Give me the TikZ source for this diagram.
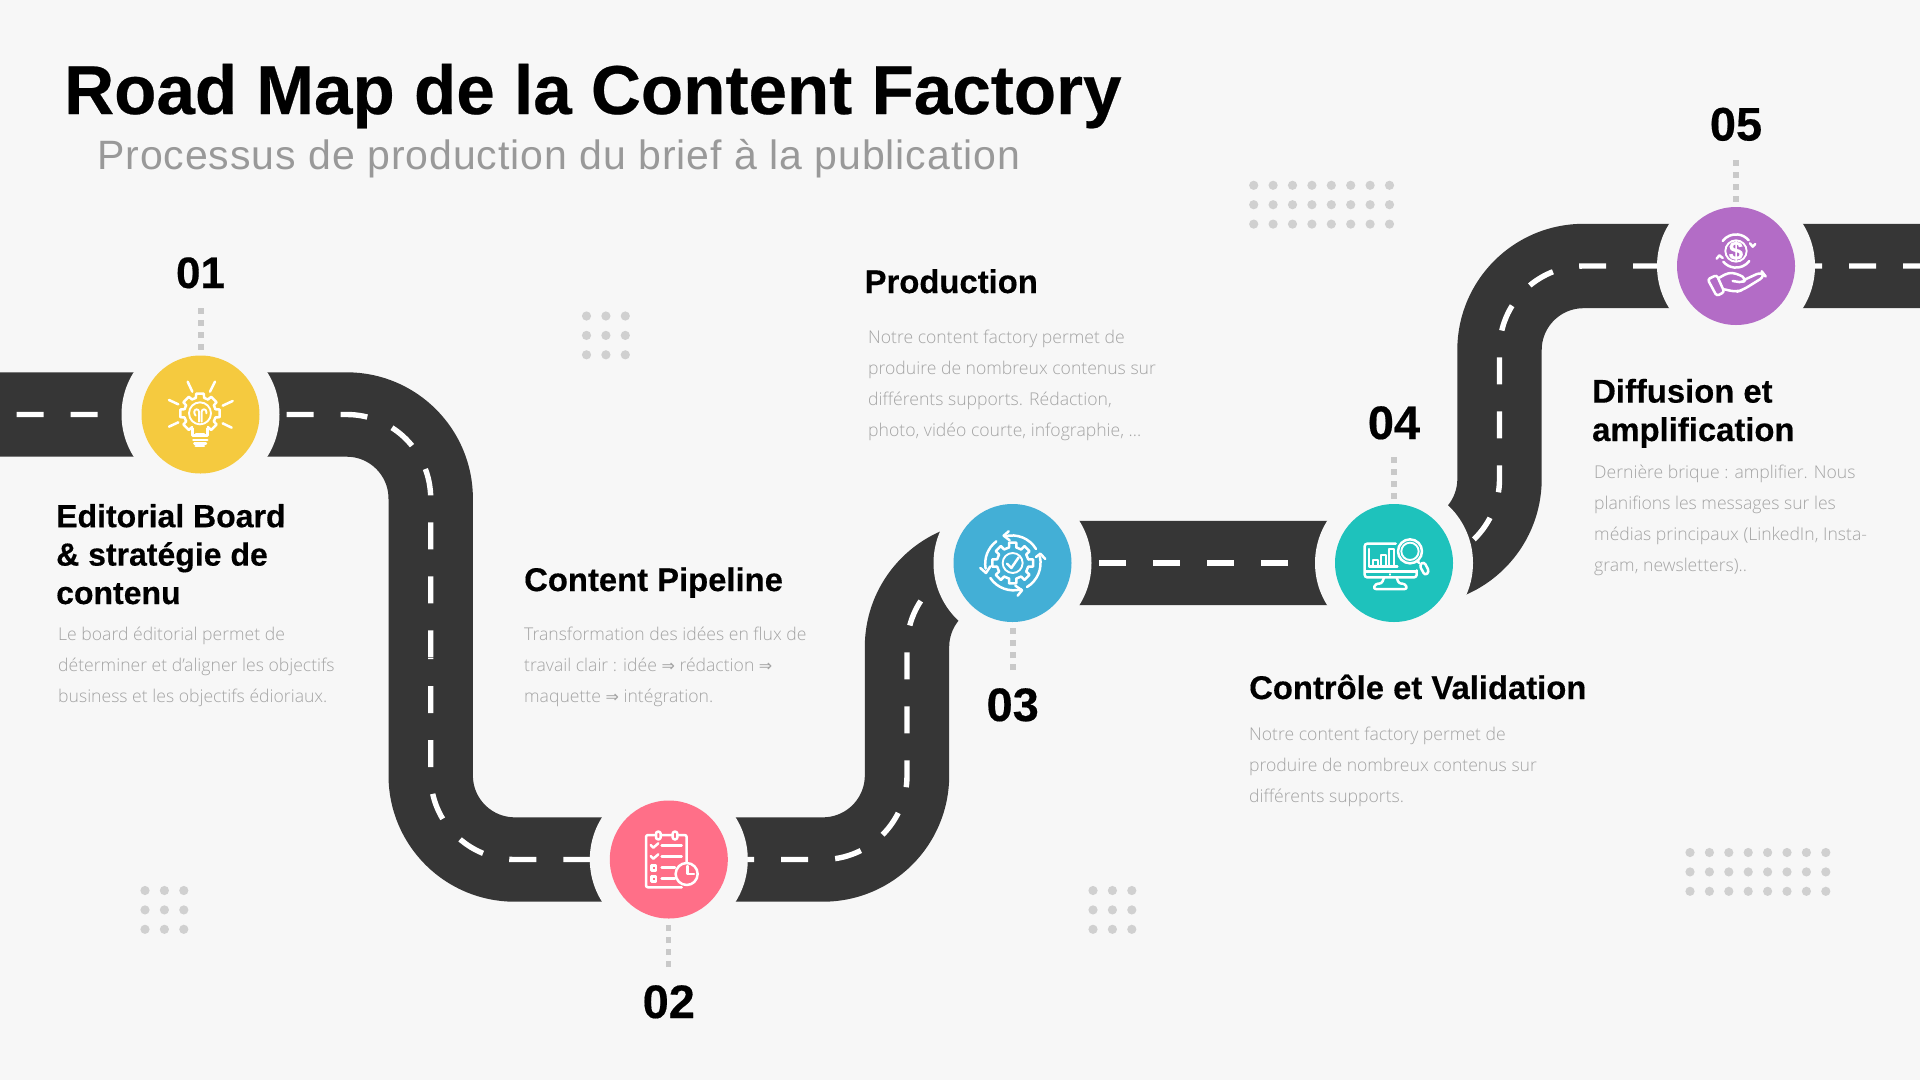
\documentclass[tikz,border=0pt]{standalone}
\usepackage{fontspec}
\usetikzlibrary{calc}
\setmainfont[BoldFeatures={FakeBold=0.35}]{Liberation Sans}
\newfontfamily\subf[LetterSpace=2.3]{Liberation Sans}
\newfontfamily\bodyf{Open Sans Light}
\newfontfamily\arrowf{DejaVu Sans}
\definecolor{bg}{HTML}{F7F7F7}
\definecolor{roadc}{HTML}{363636}
\definecolor{dotc}{HTML}{C9C9C9}
\definecolor{gridc}{HTML}{D0D0D0}
\definecolor{bodyc}{HTML}{A4A4A4}
\definecolor{subc}{HTML}{999999}
\definecolor{cyellow}{HTML}{F5CA3F}
\definecolor{cpink}{HTML}{FF6F88}
\definecolor{cblue}{HTML}{43AFD6}
\definecolor{cteal}{HTML}{1EC2BC}
\definecolor{cpurple}{HTML}{B36CC6}
\newcommand{\fa}{{\arrowf\fontsize{16}{16}\selectfont ⇒}}
\tikzset{
  road/.style={draw=roadc,line width=84.4pt,line join=round},
  lane/.style={draw=white,line width=5.4pt,dash pattern=on 27pt off 27pt},
  halo/.style={circle,fill=bg,inner sep=0pt,minimum size=158pt},
  badge/.style={circle,inner sep=0pt,minimum size=118pt},
  numtext/.style={inner sep=0pt,anchor=base,font=\bfseries\fontsize{47}{47}\selectfont},
  headtext/.style={inner sep=0pt,anchor=base west,align=left,font=\bfseries\fontsize{32.8}{38.4}\selectfont},
  bodytext/.style={inner sep=0pt,anchor=base west,align=left,text=bodyc,font=\bodyf\fontsize{17.6}{30.7}\selectfont},
  dotline/.style={draw=dotc,line width=5.6pt,dash pattern=on 6pt off 6pt},
  griddot/.style={fill=gridc},
  ic/.style={draw=white,line width=2.5pt,line cap=round,line join=round},
  icthin/.style={draw=white,line width=1.9pt,line cap=round,line join=round},
}
\newcommand{\griddots}[4]{% x0,y0,cols,rows
  \foreach \i in {1,...,#3}{\foreach \j in {1,...,#4}{
    \fill[griddot] ({#1+(\i-1)*19.4},{#2+(\j-1)*19.4}) circle[radius=4.6];}}}
\begin{document}
\begin{tikzpicture}[x=1pt,y=-1pt]
\useasboundingbox (0,0) rectangle (1920,1080);
\fill[bg] (0,0) rectangle (1920,1080);
\coordinate (wl) at (0,414.5);
\coordinate (wr) at (1920,266);
\coordinate (c1) at (200.5,414.5);
\coordinate (c2) at (668.8,859.5);
\coordinate (c3) at (1012.5,563);
\coordinate (c4) at (1394,563);
\coordinate (c5) at (1736,266);

% road
\draw[road] (wl) -- (346.7,414.5) arc[start angle=-90,end angle=0,radius=84] -- (430.7,775.5)
  arc[start angle=180,end angle=90,radius=84] -- (c2) -- (823,859.5)
  arc[start angle=90,end angle=0,radius=84] -- (907,647)
  arc[start angle=180,end angle=270,radius=84] -- (c3) -- (c4) -- (1415.5,563)
  arc[start angle=90,end angle=0,radius=84] -- (1499.5,350)
  arc[start angle=180,end angle=270,radius=84] -- (c5) -- (wr);
% lane markings
\coordinate (lanebreak) at (430.7,658);
\draw[lane,dash phase=37.5pt] (wl) -- (346.7,414.5) arc[start angle=-90,end angle=0,radius=84] -- (lanebreak);
\draw[lane,dash phase=26pt] (lanebreak) -- (430.7,775.5)
  arc[start angle=180,end angle=90,radius=84] -- (c2);
\draw[lane,dash phase=49.6pt] (c2) -- (823,859.5)
  arc[start angle=90,end angle=0,radius=84] -- (907,647)
  arc[start angle=180,end angle=270,radius=84] -- (c3);
\draw[lane,dash phase=21.5pt] (c3) -- (c4);
\draw[lane,dash phase=21.9pt] (c4) -- (1415.5,563)
  arc[start angle=90,end angle=0,radius=84] -- (1499.5,350)
  arc[start angle=180,end angle=270,radius=84] -- (c5) -- (wr);

% halos and badges
\node[halo] (h1) at (c1) {};
\node[halo] (h2) at (c2) {};
\node[halo] (h3) at (c3) {};
\node[halo] (h4) at (c4) {};
\node[halo] (h5) at (c5) {};
\node[badge,fill=cyellow] (b1) at (c1) {};
\node[badge,fill=cpink] (b2) at (c2) {};
\node[badge,fill=cblue] (b3) at (c3) {};
\node[badge,fill=cteal] (b4) at (c4) {};
\node[badge,fill=cpurple] (b5) at (c5) {};

% icon 1: lightbulb gear
\begin{scope}[shift={(150,365)},x=0.3333pt,y=-0.3333pt]
  \foreach \a in {0,45,...,315}{
    \draw[ic] ($(150,145)+(\a-15:48)$) -- ($(150,145)+(\a-11:60)$) -- ($(150,145)+(\a+11:60)$) -- ($(150,145)+(\a+15:48)$)
      arc[start angle=\a+15,end angle=\a+30,radius=48];
  }
  \fill[cyellow] (130,184) rectangle (170,205);
  \draw[ic] (127,190) -- (127,212) -- (173,212) -- (173,190);
  \draw[icthin] (150,145) circle[radius=33];
  \draw[icthin] (147,170) -- (147,140) arc[start angle=0,end angle=-180,radius=7] -- (133,145) (133,145) arc[start angle=180,end angle=120,radius=8];
  \draw[icthin] (155,170) -- (155,140) arc[start angle=180,end angle=360,radius=7] -- (169,145);
  \draw[ic] (130,225) -- (172,225) (133,235) -- (168,235) (137,243) -- (162,243);
  \draw[ic] (113,50) -- (127,80) (195,50) -- (180,80) (57,105) -- (85,118) (248,108) -- (218,122) (57,185) -- (85,172) (245,188) -- (218,175);
\end{scope}

% icon 2: checklist and clock
\begin{scope}[shift={(620,810)},x=0.3333pt,y=-0.3333pt]
  \draw[ic,rounded corners=2pt] (200,160) -- (200,75) -- (78,75) -- (78,232) -- (185,232);
  \draw[ic,fill=cpink,rounded corners=2pt] (108,65) rectangle (122,88);
  \draw[ic,fill=cpink,rounded corners=2pt] (158,65) rectangle (172,88);
  \draw[ic] (92,105) -- (100,113) -- (115,100) (92,138) -- (100,146) -- (115,133);
  \draw[ic] (125,107) -- (185,107) (125,140) -- (185,140) (125,173) -- (165,173) (125,206) -- (165,206);
  \draw[ic] (94,166) rectangle (108,182) (94,199) rectangle (108,215);
  \draw[ic,fill=cpink] (200,192) circle[radius=33];
  \draw[ic] (203,168) -- (203,192) -- (222,192);
\end{scope}

% icon 3: gear and cycle arrows
\begin{scope}[shift={(962,513)},x=0.3333pt,y=-0.3333pt]
  \foreach \a in {0,45,...,315}{
    \draw[ic] ($(152,150)+(\a-13:48)$) -- ($(152,150)+(\a-10:62)$) -- ($(152,150)+(\a+10:62)$) -- ($(152,150)+(\a+13:48)$)
      arc[start angle=\a+13,end angle=\a+32,radius=48];
  }
  \draw[icthin] (152,150) circle[radius=30];
  \draw[ic] (135,152) -- (148,165) -- (170,133);
  \draw[ic] (222,108) arc[start angle=-31,end angle=-105,radius=84];
  \draw[ic] (103,85) arc[start angle=-127,end angle=-190,radius=84];
  \draw[ic] (85,195) arc[start angle=146,end angle=74,radius=84];
  \draw[ic] (195,222) arc[start angle=59,end angle=-13,radius=84];
  \draw[ic] (140,55) -- (125,68) -- (143,82);
  \draw[ic] (55,165) -- (72,180) -- (85,160);
  \draw[ic] (160,218) -- (180,232) -- (167,248);
  \draw[ic] (222,132) -- (235,122) -- (250,138);
\end{scope}

% icon 4: monitor and magnifier
\begin{scope}[shift={(1344,513)},x=0.3333pt,y=-0.3333pt]
  \draw[ic,rounded corners=2.5pt] (155,92) -- (62,92) -- (62,193) -- (218,193) -- (218,172);
  \draw[ic] (65,175) -- (215,175);
  \draw[ic] (138,184) -- (138,185);
  \draw[ic,rounded corners=2.5pt] (120,194) -- (113,212) -- (95,212) -- (88,228) -- (190,228) -- (183,212) -- (165,212) -- (158,194);
  \draw[ic] (75,108) -- (75,160) -- (160,160);
  \draw[icthin] (88,160) -- (88,142) -- (102,142) -- (102,160) (110,160) -- (110,125) -- (125,125) -- (125,160) (135,160) -- (135,108) -- (150,108) -- (150,160);
  \draw[ic] (198,115) circle[radius=36];
  \draw[icthin] (198,115) circle[radius=26];
  \draw[ic] (218,143) -- (226,150);
  \draw[ic,rounded corners=3pt] (226,156) -- (240,146) -- (256,176) -- (243,188) -- cycle;
\end{scope}

% icon 5: hand and coin
\begin{scope}[shift={(1686,216)},x=0.3333pt,y=-0.3333pt]
  \draw[ic] (110,75) arc[start angle=-143,end angle=-40,radius=50];
  \draw[ic] (190,135) arc[start angle=37,end angle=140,radius=50];
  \draw[ic] (192,82) -- (200,92) -- (208,84);
  \draw[ic] (92,128) -- (100,118) -- (110,126);
  \draw[icthin] (150,105) circle[radius=32];
  \node[inner sep=0pt,text=white,font=\bfseries\fontsize{26}{26}\selectfont] (dollar) at (150,105) {\$};
  \draw[ic,rounded corners=2.5pt] (65,190) -- (92,177) -- (115,228) -- (92,240) -- cycle;
  \draw[ic,rounded corners=4pt] (100,185) -- (127,170) -- (150,172) -- (180,187) -- (172,200) -- (140,195);
  \draw[ic,rounded corners=6pt] (178,190) -- (228,167) -- (238,180) -- (170,222) -- (150,228) -- (115,220);
\end{scope}

% number leaders
\coordinate (l1a) at (200.7,308);  \coordinate (l1b) at (200.7,350);
\coordinate (l2a) at (668.6,967);  \coordinate (l2b) at (668.6,925);
\coordinate (l3a) at (1012.7,670); \coordinate (l3b) at (1012.7,628);
\coordinate (l4a) at (1394,457);   \coordinate (l4b) at (1394,499);
\coordinate (l5a) at (1736,160);   \coordinate (l5b) at (1736,202);
\draw[dotline] (l1a) -- (l1b);
\draw[dotline] (l2a) -- (l2b);
\draw[dotline] (l3a) -- (l3b);
\draw[dotline] (l4a) -- (l4b);
\draw[dotline] (l5a) -- (l5b);

% dot grids
\griddots{1253.7}{185.3}{8}{3}
\griddots{586.5}{316}{3}{3}
\griddots{145}{890.5}{3}{3}
\griddots{1093}{890.5}{3}{3}
\griddots{1690}{852.5}{8}{3}

% numbers
\node[numtext,font=\bfseries\fontsize{44}{44}\selectfont] (n1) at (200.5,288) {01};
\node[numtext] (n2) at (668.8,1018) {02};
\node[numtext] (n3) at (1012.7,721) {03};
\node[numtext] (n4) at (1394,439) {04};
\node[numtext] (n5) at (1736,140.5) {05};

% title
\node[inner sep=0pt,anchor=base west,font=\bfseries\fontsize{69.2}{69.2}\selectfont] (title) at (64,114) {Road Map de la Content Factory};
\node[inner sep=0pt,anchor=base west,text=subc,font=\subf\fontsize{41}{41}\selectfont] (subtitle) at (97,169) {Processus de production du brief à la publication};

% headings (the anchor is the baseline of the last line)
\node[headtext,font=\bfseries\fontsize{32}{38.4}\selectfont] (t1) at (56,604) {Editorial Board\\\& stratégie de\\contenu};
\node[headtext] (t2) at (524,591) {Content Pipeline};
\node[headtext] (t3) at (864.5,293) {Production};
\node[headtext] (t4) at (1249,699) {Contrôle et Validation};
\node[headtext] (t5) at (1592,441) {Diffusion et\\amplification};

% bodies
\node[bodytext] (d1) at (58,702) {Le board éditorial permet de\\déterminer et d’aligner les objectifs\\business et les objectifs édioriaux.};
\node[bodytext] (d2) at (524,702) {Transformation des idées en flux de\\travail clair : idée \fa{} rédaction \fa\\maquette \fa{} intégration.};
\node[bodytext] (d3) at (868,436) {Notre content factory permet de\\produire de nombreux contenus sur\\différents supports. Rédaction,\\photo, vidéo courte, infographie, ...};
\node[bodytext] (d4) at (1249,802) {Notre content factory permet de\\produire de nombreux contenus sur\\différents supports.};
\node[bodytext] (d5) at (1594,571) {Dernière brique : amplifier. Nous\\planifions les messages sur les\\médias principaux (LinkedIn, Insta-\\gram, newsletters)..};
\end{tikzpicture}
\end{document}
